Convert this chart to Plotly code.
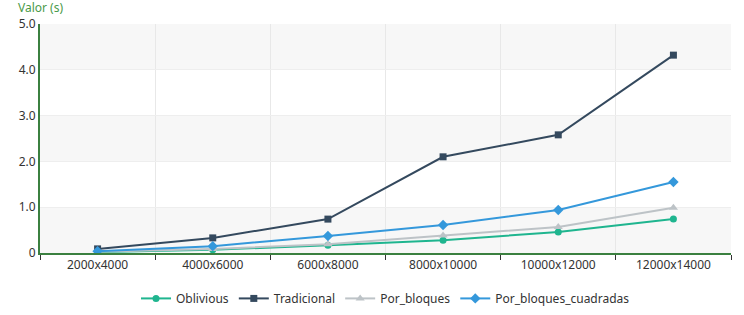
import plotly.graph_objects as go

categories = ["2000x4000", "4000x6000", "6000x8000", "8000x10000", "10000x12000", "12000x14000"]
oblivious = [0.02, 0.07, 0.17, 0.28, 0.46, 0.74]
tradicional = [0.09, 0.33, 0.74, 2.10, 2.58, 4.32]
por_bloques = [0.03, 0.09, 0.19, 0.38, 0.57, 0.99]
por_bloques_cuadradas = [0.04, 0.15, 0.37, 0.61, 0.94, 1.55]
y_ticks = [0, 1, 2, 3, 4, 5]
y_ticktext = ["0", "1.0", "2.0", "3.0", "4.0", "5.0"]

series = [
    ("Oblivious", oblivious, "#1fb58f", "circle", 7),
    ("Tradicional", tradicional, "#34495e", "square", 7),
    ("Por_bloques", por_bloques, "#bdc3c7", "triangle-up", 8),
    ("Por_bloques_cuadradas", por_bloques_cuadradas, "#3498db", "diamond", 8),
]

fig = go.Figure()
for name, vals, color, sym, size in series:
    fig.add_trace(go.Scatter(
        x=categories, y=vals, name=name, mode="lines+markers",
        line=dict(color=color, width=2),
        marker=dict(symbol=sym, size=size, color=color),
    ))

# alternating background bands
for i in range(0, len(y_ticks) - 1, 2):
    fig.add_shape(type="rect", xref="paper", yref="y", x0=0, x1=1,
                  y0=y_ticks[i], y1=y_ticks[i + 1],
                  fillcolor="#f7f7f7", line_width=0, layer="below")

font = "Noto Sans, Open Sans, sans-serif"
fig.update_layout(
    width=744, height=315,
    margin=dict(l=40, r=13, t=24, b=62, autoexpand=False),
    paper_bgcolor="white", plot_bgcolor="white",
    font=dict(family=font, size=12, color="#333333"),
    showlegend=True,
    legend=dict(orientation="h", x=0.5, xanchor="center", y=-0.135, yanchor="top",
                font=dict(size=12, color="#333333"), itemwidth=30, tracegroupgap=0),
    xaxis=dict(
        type="category", tickson="boundaries", showgrid=True, gridcolor="#e8e8e8",
        showline=True, linecolor="#3b8040", linewidth=2,
        ticks="outside", ticklen=5, tickcolor="#333333",
        tickfont=dict(size=12, color="#333333"), range=[-0.5, 5.5], zeroline=False,
    ),
    yaxis=dict(
        range=[0, 5], tickvals=y_ticks, ticktext=y_ticktext,
        showgrid=True, gridcolor="#eeeeee", zeroline=False,
        showline=True, linecolor="#3b8040", linewidth=2, ticks="",
        tickfont=dict(size=12, color="#333333"),
    ),
    annotations=[dict(text="Valor (s)", xref="paper", yref="paper", x=-0.035, y=1.0,
                      xanchor="left", yanchor="bottom", yshift=6, showarrow=False,
                      font=dict(size=12, color="#4a9a4a"))],
)

fig.write_html("out.html")
